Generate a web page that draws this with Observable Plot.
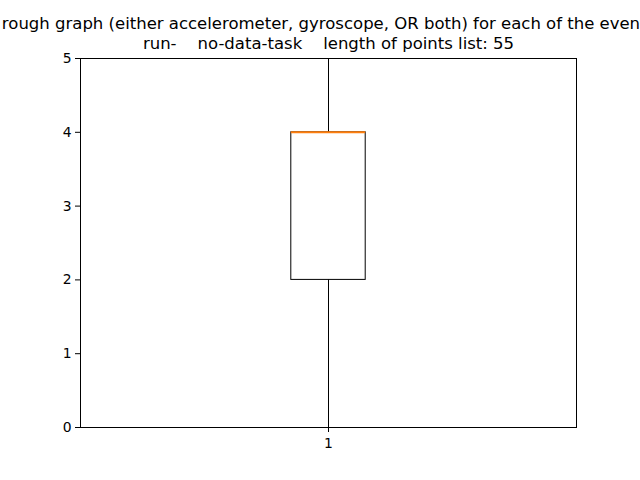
<!DOCTYPE html>
<html>
<head>
<meta charset="utf-8">
<script src="https://cdn.jsdelivr.net/npm/d3@7"></script>
<script src="https://cdn.jsdelivr.net/npm/@observablehq/plot@0.6"></script>
<style>
  html, body { margin: 0; padding: 0; background: white; overflow: hidden; }
  #chart svg { overflow: visible; display: block; }
</style>
</head>
<body>
<div id="chart"></div>
<script>
const titleLines = [
  "rough graph (either accelerometer, gyroscope, OR both) for each of the events",
  "run-    no-data-task    length of points list: 55"
];
const positions = [1];
const whiskerLow = [0];
const q1 = [2];
const median = [4];
const q3 = [4];
const whiskerHigh = [5];
const yTicks = [0, 1, 2, 3, 4, 5];
const xTicks = [1];

const boxWidth = 0.15;
const boxes = positions.map((p, i) => ({
  x: p, lo: whiskerLow[i], q1: q1[i], med: median[i], q3: q3[i], hi: whiskerHigh[i]
}));

const font = "DejaVu Sans, sans-serif";

const chart = Plot.plot({
  width: 640,
  height: 480,
  marginLeft: 80,
  marginRight: 64,
  marginTop: 58,
  marginBottom: 53,
  style: { fontFamily: font, fontSize: "13.9px", color: "black", background: "white", overflow: "visible" },
  x: { domain: [0.5, 1.5], ticks: xTicks, tickFormat: d => String(d), tickSize: 5, tickPadding: 6, label: null },
  y: { domain: [0, 5], ticks: yTicks, tickFormat: d => String(d), tickSize: 5, tickPadding: 4, label: null },
  marks: [
    Plot.ruleX(boxes, { x: "x", y1: "q3", y2: "hi", stroke: "black", strokeWidth: 1 }),
    Plot.ruleX(boxes, { x: "x", y1: "lo", y2: "q1", stroke: "black", strokeWidth: 1 }),
    Plot.ruleY(boxes, { y: "hi", x1: d => d.x - boxWidth / 4, x2: d => d.x + boxWidth / 4, stroke: "black", strokeWidth: 1 }),
    Plot.ruleY(boxes, { y: "lo", x1: d => d.x - boxWidth / 4, x2: d => d.x + boxWidth / 4, stroke: "black", strokeWidth: 1 }),
    Plot.rect(boxes, { x1: d => d.x - boxWidth / 2, x2: d => d.x + boxWidth / 2, y1: "q1", y2: "q3", fill: "none", stroke: "black", strokeWidth: 1 }),
    Plot.ruleY(boxes, { y: "med", x1: d => d.x - boxWidth / 2, x2: d => d.x + boxWidth / 2, stroke: "#ff7f0e", strokeWidth: 2 }),
    Plot.frame({ stroke: "black", strokeWidth: 1 }),
    Plot.text([titleLines[0]], { frameAnchor: "top", text: d => d, dy: -30, lineAnchor: "bottom", fontSize: 16.5, fill: "black" }),
    Plot.text([titleLines[1]], { frameAnchor: "top", text: d => d, dy: -10, lineAnchor: "bottom", fontSize: 16.5, fill: "black" })
  ]
});
document.getElementById("chart").appendChild(chart);
</script>
</body>
</html>
